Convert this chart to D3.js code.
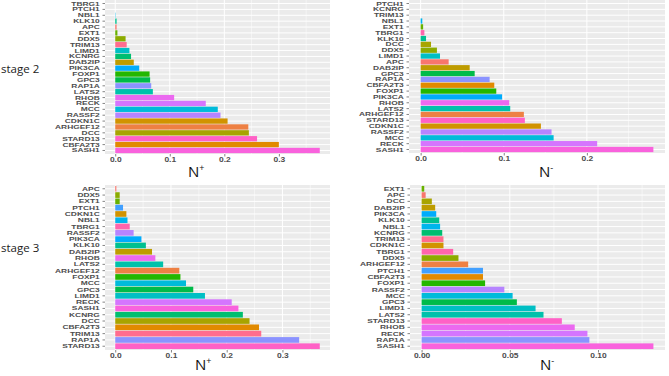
<!DOCTYPE html>
<html>
<head>
<meta charset="utf-8">
<script src="https://cdn.jsdelivr.net/npm/d3@7/dist/d3.min.js"></script>
<style>
  body { margin: 0; background: #fff; }
  svg { display: block; }
</style>
</head>
<body>
<svg id="chart" width="669" height="376"></svg>
<script>
// ---- data ----
const stage2PosGenes = ["TBRG1", "PTCH1", "NBL1", "KLK10", "APC", "EXT1", "DDX5", "TRIM13", "LIMD1", "KCNRG",
    "DAB2IP", "PIK3CA", "FOXP1", "GPC3", "RAP1A", "LATS2", "RHOB", "RECK", "MCC", "RASSF2",
    "CDKN1C", "ARHGEF12", "DCC", "STARD13", "CBFA2T3", "SASH1"];
const stage2PosValues = [0, 0, 0.0006, 0.0025, 0.0025, 0.004, 0.019, 0.021, 0.026, 0.029,
    0.034, 0.044, 0.063, 0.064, 0.066, 0.069, 0.108, 0.166, 0.188, 0.193,
    0.206, 0.244, 0.245, 0.260, 0.300, 0.375];

const stage2NegGenes = ["PTCH1", "KCNRG", "TRIM13", "NBL1", "EXT1", "TBRG1", "KLK10", "DCC", "DDX5", "LIMD1",
    "APC", "DAB2IP", "GPC3", "RAP1A", "CBFA2T3", "FOXP1", "PIK3CA", "RHOB", "LATS2", "ARHGEF12",
    "STARD13", "CDKN1C", "RASSF2", "MCC", "RECK", "SASH1"];
const stage2NegValues = [0, 0, 0, 0.002, 0.003, 0.0045, 0.0065, 0.0125, 0.0196, 0.0233,
    0.0337, 0.059, 0.065, 0.083, 0.0886, 0.091, 0.098, 0.1066, 0.1078, 0.1242,
    0.1254, 0.1447, 0.1575, 0.160, 0.2124, 0.280];

const stage3PosGenes = ["APC", "DDX5", "EXT1", "PTCH1", "CDKN1C", "NBL1", "TBRG1", "RASSF2", "PIK3CA", "KLK10",
    "DAB2IP", "RHOB", "LATS2", "ARHGEF12", "FOXP1", "MCC", "GPC3", "LIMD1", "RECK", "SASH1",
    "KCNRG", "DCC", "CBFA2T3", "TRIM13", "RAP1A", "STARD13"];
const stage3PosValues = [0.002, 0.008, 0.008, 0.014, 0.020, 0.022, 0.026, 0.033, 0.047, 0.055,
    0.066, 0.072, 0.086, 0.115, 0.117, 0.127, 0.140, 0.161, 0.209, 0.221,
    0.229, 0.241, 0.258, 0.262, 0.330, 0.367];

const stage3NegGenes = ["EXT1", "APC", "DCC", "DAB2IP", "PIK3CA", "KLK10", "NBL1", "KCNRG", "TRIM13", "CDKN1C",
    "TBRG1", "DDX5", "ARHGEF12", "PTCH1", "CBFA2T3", "FOXP1", "RASSF2", "MCC", "GPC3", "LIMD1",
    "LATS2", "STARD13", "RHOB", "RECK", "RAP1A", "SASH1"];
const stage3NegValues = [0.0015, 0.0023, 0.0058, 0.0077, 0.0083, 0.0100, 0.0105, 0.0117, 0.0124, 0.0124,
    0.0179, 0.0209, 0.0264, 0.0348, 0.0348, 0.0360, 0.0469, 0.0516, 0.0540, 0.0646,
    0.0691, 0.0795, 0.0868, 0.0940, 0.0951, 0.1314];

const ticksPos2 = [0, 0.1, 0.2, 0.3];
const ticksNeg2 = [0, 0.1, 0.2];
const ticksPos3 = [0, 0.1, 0.2, 0.3];
const ticksNeg3 = [0, 0.05, 0.10];
const stageLabels = ["stage 2", "stage 3"];

// ggplot default hue palette (hcl in polar LUV, c=100, l=65)
function hueColor(h) {
    const L = 65, C = 100, hr = h * Math.PI / 180;
    const u = C * Math.cos(hr), v = C * Math.sin(hr);
    const Xn = 95.047, Yn = 100, Zn = 108.883;
    const den = Xn + 15 * Yn + 3 * Zn;
    const un = 4 * Xn / den, vn = 9 * Yn / den;
    const Y = Yn * Math.pow((L + 16) / 116, 3);
    const up = u / (13 * L) + un, vp = v / (13 * L) + vn;
    const X = Y * 9 * up / (4 * vp);
    const Z = Y * (12 - 3 * up - 20 * vp) / (4 * vp);
    const x = X / 100, y = Y / 100, z = Z / 100;
    const lin = [
        3.2404542 * x - 1.5371385 * y - 0.4985314 * z,
        -0.9692660 * x + 1.8760108 * y + 0.0415560 * z,
        0.0556434 * x - 0.2040259 * y + 1.0572252 * z
    ];
    const c = lin.map(t => {
        t = t <= 0.0031308 ? 12.92 * t : 1.055 * Math.pow(t, 1 / 2.4) - 0.055;
        return Math.round(Math.max(0, Math.min(1, t)) * 255);
    });
    return d3.rgb(c[0], c[1], c[2]).formatHex();
}

const allGenes = stage2PosGenes.slice().sort();
const color = d3.scaleOrdinal()
    .domain(allGenes)
    .range(allGenes.map((g, i) => hueColor(15 + 360 * i / allGenes.length)));

const svg = d3.select("#chart");
const fontAxis = "'Liberation Sans', Arial, sans-serif";
const fontLabel = "'Open Sans', 'Noto Sans', sans-serif";

const panels = [
    { genes: stage2PosGenes, values: stage2PosValues, ticks: ticksPos2, fmt: ".1f",
      left: 105, right: 330, top: 0, bottom: 154, title: "+", tx: 188, ty: 177 },
    { genes: stage2NegGenes, values: stage2NegValues, ticks: ticksNeg2, fmt: ".1f",
      left: 409, right: 665, top: 0, bottom: 153, title: "-", tx: 539, ty: 177 },
    { genes: stage3PosGenes, values: stage3PosValues, ticks: ticksPos3, fmt: ".1f",
      left: 105, right: 330, top: 185, bottom: 350, title: "+", tx: 195, ty: 370 },
    { genes: stage3NegGenes, values: stage3NegValues, ticks: ticksNeg3, fmt: ".2f",
      left: 410, right: 665, top: 185, bottom: 350, title: "-", tx: 540, ty: 370 }
];

panels.forEach(p => {
    const maxV = d3.max(p.values);
    const x = d3.scaleLinear()
        .domain([-0.05 * maxV, 1.05 * maxV])
        .range([p.left, p.right]);
    const y = d3.scaleBand()
        .domain(p.genes)
        .range([p.top, p.bottom])
        .paddingInner(0.1)
        .paddingOuter(0.15);

    const g = svg.append("g");

    g.append("rect")
        .attr("x", p.left).attr("y", p.top)
        .attr("width", p.right - p.left).attr("height", p.bottom - p.top)
        .attr("fill", "#EBEBEB");

    // minor grid
    const step = p.ticks[1] - p.ticks[0];
    const minor = d3.range(-1, p.ticks.length + 1).map(i => p.ticks[0] + step * (i + 0.5))
        .filter(v => v > x.domain()[0] && v < x.domain()[1]);
    g.selectAll(".minor").data(minor).join("line")
        .attr("x1", d => x(d)).attr("x2", d => x(d))
        .attr("y1", p.top).attr("y2", p.bottom)
        .attr("stroke", "#fff").attr("stroke-width", 0.5);

    // major grid
    g.selectAll(".majx").data(p.ticks).join("line")
        .attr("x1", d => x(d)).attr("x2", d => x(d))
        .attr("y1", p.top).attr("y2", p.bottom)
        .attr("stroke", "#fff").attr("stroke-width", 1);
    g.selectAll(".majy").data(p.genes).join("line")
        .attr("x1", p.left).attr("x2", p.right)
        .attr("y1", d => y(d) + y.bandwidth() / 2).attr("y2", d => y(d) + y.bandwidth() / 2)
        .attr("stroke", "#fff").attr("stroke-width", 1);

    // bars
    g.selectAll(".bar").data(p.genes).join("rect")
        .attr("x", x(0))
        .attr("y", d => y(d))
        .attr("width", (d, i) => Math.max(0, x(p.values[i]) - x(0)))
        .attr("height", y.bandwidth())
        .attr("fill", d => color(d));

    // y axis
    const yAxis = g.append("g")
        .attr("transform", `translate(${p.left},0)`)
        .call(d3.axisLeft(y).tickSize(2.5).tickPadding(1));
    yAxis.select(".domain").remove();
    yAxis.selectAll("line").attr("stroke", "#333").attr("stroke-width", 0.6);
    yAxis.selectAll("text")
        .attr("fill", "#4D4D4D")
        .attr("font-family", fontAxis)
        .attr("font-weight", "bold")
        .attr("font-size", 5.6)
        .attr("dy", "0.36em")
        .attr("transform", "scale(1.5,1)");

    // x axis
    const xAxis = g.append("g")
        .attr("transform", `translate(0,${p.bottom})`)
        .call(d3.axisBottom(x).tickValues(p.ticks).tickFormat(d3.format(p.fmt))
            .tickSize(2.5).tickPadding(1));
    xAxis.select(".domain").remove();
    xAxis.selectAll("line").attr("stroke", "#333").attr("stroke-width", 0.6);
    xAxis.selectAll("text")
        .attr("fill", "#4D4D4D")
        .attr("font-family", fontAxis)
        .attr("font-weight", "bold")
        .attr("font-size", 6.5)
        .attr("transform", "scale(1.3,1)");

    // axis title
    const t = svg.append("text")
        .attr("x", p.tx).attr("y", p.ty)
        .attr("font-family", fontLabel)
        .attr("font-size", 15)
        .attr("fill", "#111")
        .text("N");
    t.append("tspan")
        .attr("font-size", 9)
        .attr("dy", -6)
        .text(p.title === "+" ? "+" : "-");
});

// stage labels
svg.selectAll(".stage").data(stageLabels).join("text")
    .attr("x", 1)
    .attr("y", (d, i) => [73, 252][i])
    .attr("font-family", fontLabel)
    .attr("font-size", 11.5)
    .attr("fill", "#222")
    .text(d => d);
</script>
</body>
</html>
